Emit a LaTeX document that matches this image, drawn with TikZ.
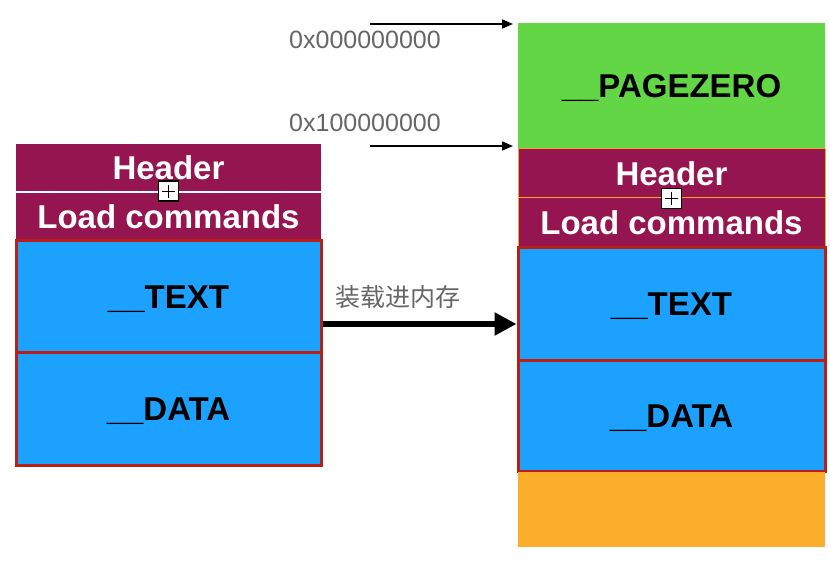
\documentclass[tikz,border=0pt]{standalone}
\usepackage{fontspec}
\setmainfont{Liberation Sans}
\newfontfamily\cjk{Noto Sans CJK SC}
\usetikzlibrary{arrows.meta}
\definecolor{segmaroon}{RGB}{149,21,81}
\definecolor{segblue}{RGB}{29,161,254}
\definecolor{seggreen}{RGB}{99,214,69}
\definecolor{segorange}{RGB}{251,174,44}
\definecolor{segred}{RGB}{186,30,20}
\definecolor{hdrline}{RGB}{245,166,35}
\definecolor{addrgray}{RGB}{102,102,102}

\begin{document}
\begin{tikzpicture}[x=0.5pt,y=-0.5pt]
		\tikzset{seg/.style = {shape=rectangle, inner sep=0pt, font=\bfseries\fontsize{16.5}{19}\selectfont},
			hdr/.style = {seg, fill=segmaroon, text=white},
			sect/.style = {seg, fill=segblue, draw=segred, line width=1.5pt, text=black, text depth=0pt},
			plusbox/.style = {shape=rectangle, draw, fill=white, line width=0.9pt, minimum size=10pt, inner sep=0pt,
				path picture={\draw[line width=0.6pt] ([xshift=1.8pt]path picture bounding box.west) -- ([xshift=-1.8pt]path picture bounding box.east);
					\draw[line width=0.6pt] ([yshift=-1.8pt]path picture bounding box.north) -- ([yshift=1.8pt]path picture bounding box.south);}},
			addr/.style = {text=addrgray, font=\fontsize{12.5}{15}\selectfont},
			ptr/.style = {line width=0.8pt, -{Triangle[length=5.5pt,width=4.5pt]}}}

		\useasboundingbox (0,0) rectangle (830,566);

		% file on disk
		\node[hdr, minimum width=152.5pt, minimum height=23.5pt] (L_1) at (168.5,167.5) {Header};
		\node[hdr, minimum width=152.5pt, minimum height=23.5pt] (L_2) at (168.5,216.5) {Load commands};
		\node[sect, minimum width=152.5pt, minimum height=56pt] (L_3) at (168.5,297) {\_\_TEXT};
		\node[sect, minimum width=152.5pt, minimum height=56.5pt] (L_4) at (168.5,409.5) {\_\_DATA};
		\node[plusbox] (P_1) at (L_1.south) {};

		% memory
		\node[seg, fill=seggreen, text depth=0pt, minimum width=153.5pt, minimum height=63pt] (R_0) at (671.5,86) {\_\_PAGEZERO};
		\node[hdr, draw=hdrline, line width=0.5pt, minimum width=153.5pt, minimum height=24.5pt] (R_1) at (671.5,173.5) {Header};
		\node[hdr, draw=hdrline, line width=0.5pt, minimum width=153.5pt, minimum height=24.5pt] (R_2) at (671.5,222.5) {Load commands};
		\node[sect, minimum width=153.5pt, minimum height=56.5pt] (R_3) at (671.5,304.5) {\_\_TEXT};
		\node[sect, minimum width=153.5pt, minimum height=55.5pt] (R_4) at (671.5,416.5) {\_\_DATA};
		\node[seg, fill=segorange, minimum width=153.5pt, minimum height=37.5pt] (R_5) at (671.5,509.5) {};
		\node[plusbox] (P_2) at (R_1.south) {};

		\node[addr] (H_0) at (365,40) {0x000000000};
		\node[addr] (H_1) at (365,123) {0x100000000};
		\node[addr] (T_1) at (398,297) {\cjk 装载进内存};

		\coordinate (S_0) at (370,24);
		\coordinate (E_0) at (513,24);
		\coordinate (S_1) at (370,146);
		\coordinate (E_1) at (513,146);

		\draw[ptr] (S_0) -- (E_0);
		\draw[ptr] (S_1) -- (E_1);
		\draw[line width=2.6pt, -{Triangle[length=11pt,width=11pt]}] (L_3.east |- 0,324) -- (R_3.west |- 0,324);

	\end{tikzpicture}
\end{document}
